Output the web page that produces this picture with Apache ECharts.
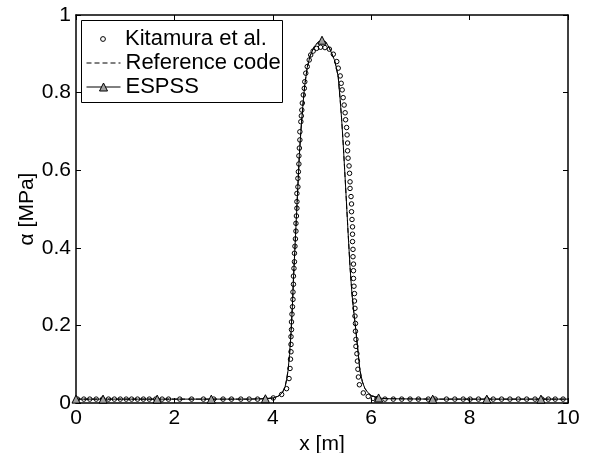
<!DOCTYPE html>
<html><head><meta charset="utf-8">
<script src="https://cdn.jsdelivr.net/npm/echarts@6/dist/echarts.min.js"></script>
<style>html,body{margin:0;padding:0;background:#fff}#c{width:600px;height:453px}</style>
</head><body><div id="c"></div>
<script>
// Kitamura et al. (circles)
const kitX = [0.03,0.16,0.28,0.41,0.54,0.66,0.78,0.90,1.02,1.13,1.25,1.37,1.49,1.62,1.75,1.88,2.11,2.35,2.59,2.80,2.99,3.16,3.35,3.52,3.69,3.85,4.01,
4.18,4.28,4.33,4.35,4.36,4.37,4.37,4.37,4.38,4.38,
4.39,4.40,4.41,4.41,4.42,4.42,4.43,4.44,4.44,4.45,
4.46,4.47,4.47,4.48,4.49,4.49,4.49,4.51,4.51,4.52,
4.53,4.53,4.54,4.55,4.55,4.57,4.58,4.59,4.60,4.62,
4.64,4.65,4.67,4.70,4.74,4.77,4.82,4.89,4.97,5.06,
5.15,5.23,5.30,5.33,5.37,5.39,5.41,5.43,5.45,5.47,
5.48,5.50,5.51,5.52,5.52,5.53,5.55,5.56,5.57,5.57,
5.59,5.60,5.60,5.61,5.62,5.62,5.62,5.63,5.63,5.64,
5.64,5.64,5.65,5.66,5.66,5.67,5.67,5.68,5.68,5.69,
5.69,5.71,5.72,5.73,5.74,5.76,5.84,5.94,6.04,6.12,
6.28,6.45,6.62,6.79,6.96,7.16,7.30,7.53,7.70,7.87,
8.01,8.18,8.35,8.48,8.65,8.82,8.99,9.16,9.33,9.47,
9.60,9.74,9.90];
const kitY = [0.01,0.01,0.01,0.01,0.01,0.01,0.01,0.01,0.01,0.01,0.01,0.01,0.01,0.01,0.01,0.01,0.01,0.01,0.01,0.01,0.01,0.01,0.01,0.01,0.01,0.01,0.013,
0.022,0.037,0.063,0.089,0.113,0.132,0.151,0.171,0.189,0.209,
0.229,0.248,0.267,0.286,0.306,0.327,0.347,0.364,0.386,0.404,
0.423,0.443,0.463,0.482,0.502,0.519,0.540,0.557,0.579,0.596,
0.616,0.637,0.657,0.678,0.699,0.725,0.740,0.755,0.773,0.794,
0.811,0.828,0.850,0.867,0.884,0.897,0.907,0.914,0.917,0.916,
0.912,0.899,0.880,0.863,0.843,0.824,0.807,0.787,0.768,0.748,
0.730,0.710,0.691,0.670,0.650,0.631,0.611,0.592,0.570,0.553,
0.532,0.513,0.493,0.473,0.454,0.435,0.416,0.396,0.377,0.358,
0.341,0.321,0.301,0.282,0.263,0.244,0.224,0.205,0.185,0.164,
0.146,0.127,0.108,0.087,0.067,0.047,0.026,0.017,0.012,0.011,
0.01,0.01,0.01,0.01,0.01,0.01,0.01,0.01,0.01,0.01,
0.01,0.01,0.01,0.01,0.01,0.01,0.01,0.01,0.01,0.01,
0.01,0.01,0.01];

// ESPSS (solid line with triangles)
const espssX = [0,0.55,1.65,2.75,3.5,3.85,4.0,4.1,4.15,4.2,4.25,4.28,4.31,4.34,4.37,4.4,4.42,4.45,4.48,4.51,4.54,4.57,4.61,4.65,4.7,4.76,4.84,4.92,5.0,5.08,5.15,5.2,5.25,5.29,5.33,5.37,5.4,5.43,5.47,5.5,5.53,5.57,5.61,5.65,5.69,5.73,5.77,5.82,5.87,5.93,6.0,6.15,6.3,7.25,8.35,9.45,10];
const espssY = [0.01,0.01,0.01,0.01,0.01,0.011,0.013,0.017,0.021,0.028,0.042,0.06,0.084,0.125,0.18,0.255,0.32,0.40,0.48,0.56,0.64,0.70,0.765,0.82,0.865,0.895,0.918,0.93,0.935,0.93,0.915,0.9,0.885,0.865,0.84,0.78,0.73,0.67,0.58,0.51,0.44,0.35,0.28,0.23,0.185,0.135,0.085,0.055,0.038,0.027,0.019,0.013,0.011,0.01,0.01,0.01,0.01];
const espssMarkX = [0,0.55,1.65,2.75,3.85,5.0,6.15,7.25,8.35,9.45];

// Reference code (dashed line) - coincides with ESPSS
const refX = [0,0.55,1.65,2.75,3.5,3.85,4.0,4.1,4.15,4.2,4.25,4.28,4.31,4.34,4.37,4.4,4.42,4.45,4.48,4.51,4.54,4.57,4.61,4.65,4.7,4.76,4.84,4.92,5.0,5.08,5.15,5.2,5.25,5.29,5.33,5.37,5.4,5.43,5.47,5.5,5.53,5.57,5.61,5.65,5.69,5.73,5.77,5.82,5.87,5.93,6.0,6.15,6.3,7.25,8.35,9.45,10];
const refY = [0.01,0.01,0.01,0.01,0.01,0.011,0.013,0.017,0.021,0.028,0.042,0.06,0.084,0.125,0.18,0.255,0.32,0.40,0.48,0.56,0.64,0.70,0.765,0.82,0.865,0.895,0.918,0.93,0.935,0.93,0.915,0.9,0.885,0.865,0.84,0.78,0.73,0.67,0.58,0.51,0.44,0.35,0.28,0.23,0.185,0.135,0.085,0.055,0.038,0.027,0.019,0.013,0.011,0.01,0.01,0.01,0.01];

const xTicks = [0,2,4,6,8,10];
const yTicks = [0,0.2,0.4,0.6,0.8,1];
const names = ['Kitamura et al.','Reference code','ESPSS'];
const xName = 'x [m]';
const yName = 'α [MPa]';

const FONT = "'Liberation Sans', Arial, Helvetica, sans-serif";
const FS = 21;
const LFS = 22;
const chart = echarts.init(document.getElementById('c'), null, {renderer:'canvas'});

function xAx(pos, main){
  return {type:'value', position:pos, min:xTicks[0], max:xTicks[xTicks.length-1], interval:xTicks[1]-xTicks[0],
    axisLine:{show:true,onZero:false,lineStyle:{color:'#000',width:1.5}},
    axisTick:{show:true,inside:true,length:5,lineStyle:{color:'#000',width:1}},
    axisLabel:{show:main,color:'#000',fontSize:FS,fontFamily:FONT,margin:5},
    splitLine:{show:false},
    name: main? xName : '', nameLocation:'middle', nameGap:26,
    nameTextStyle:{color:'#000',fontSize:FS,fontFamily:FONT}};
}
function yAx(pos, main){
  return {type:'value', position:pos, min:yTicks[0], max:yTicks[yTicks.length-1], interval:0.2,
    axisLine:{show:true,onZero:false,lineStyle:{color:'#000',width:1.5}},
    axisTick:{show:true,inside:true,length:5,lineStyle:{color:'#000',width:1}},
    axisLabel:{show:main,color:'#000',fontSize:FS,fontFamily:FONT,margin:5,
      formatter:v=>String(parseFloat(v.toFixed(2)))},
    splitLine:{show:false},
    name: main? yName : '', nameLocation:'middle', nameGap:38, nameMoveOverlap:false,
    nameTextStyle:{color:'#000',fontSize:FS,fontFamily:FONT}};
}

const legBase = {orient:'vertical', padding:0, itemWidth:34, z:10,
  textStyle:{color:'#000',fontSize:LFS,fontFamily:FONT,lineHeight:24}, selectedMode:false};

chart.setOption({
  animation:false,
  backgroundColor:'#fff',
  grid:{left:76,right:32,top:15,bottom:50,containLabel:false,outerBoundsMode:'none'},
  xAxis:[xAx('bottom',true), xAx('top',false)],
  yAxis:[yAx('left',true), yAx('right',false)],
  graphic:[{type:'rect', z:9, shape:{x:81.5,y:20.5,width:201,height:82},
    style:{fill:'#fff',stroke:'#000',lineWidth:1}}],
  legend:[
    Object.assign({}, legBase, {data:[names[0]], left:86, top:27, itemHeight:6,
      itemStyle:{borderWidth:1, borderColor:'#000'}, lineStyle:{width:0}}),
    Object.assign({}, legBase, {data:[names[1]], left:86, top:51, itemHeight:8,
      itemStyle:{color:'rgba(0,0,0,0)', borderWidth:0, borderColor:'rgba(0,0,0,0)'},
      lineStyle:{width:1}}),
    Object.assign({}, legBase, {data:[names[2]], left:86, top:75, itemHeight:10,
      itemStyle:{borderWidth:1, borderColor:'#000'}, lineStyle:{width:1}})
  ],
  series:[
    {type:'line', name:names[0], z:2,
     data: kitX.map((x,i)=>[x,kitY[i]]),
     symbol:'circle', symbolSize:4.5, showAllSymbol:true,
     lineStyle:{width:0, opacity:0},
     itemStyle:{color:'rgba(255,255,255,0)', borderColor:'#000', borderWidth:1}},
    {type:'line', name:names[1], z:3,
     data: refX.map((x,i)=>[x,refY[i]]),
     symbol:'none', lineStyle:{color:'#000', width:1, type:[5,3]}},
    {type:'line', name:names[2], z:4,
     data: espssX.map((x,i)=>{
       const m = espssMarkX.indexOf(x) >= 0;
       return {value:[x,espssY[i]], symbol: m ? 'triangle' : 'none'};
     }),
     symbol:'triangle', symbolSize:8, showAllSymbol:true,
     lineStyle:{color:'#000', width:1},
     itemStyle:{color:'#a0a0a0', borderColor:'#000', borderWidth:1}}
  ]
});
</script></body></html>
